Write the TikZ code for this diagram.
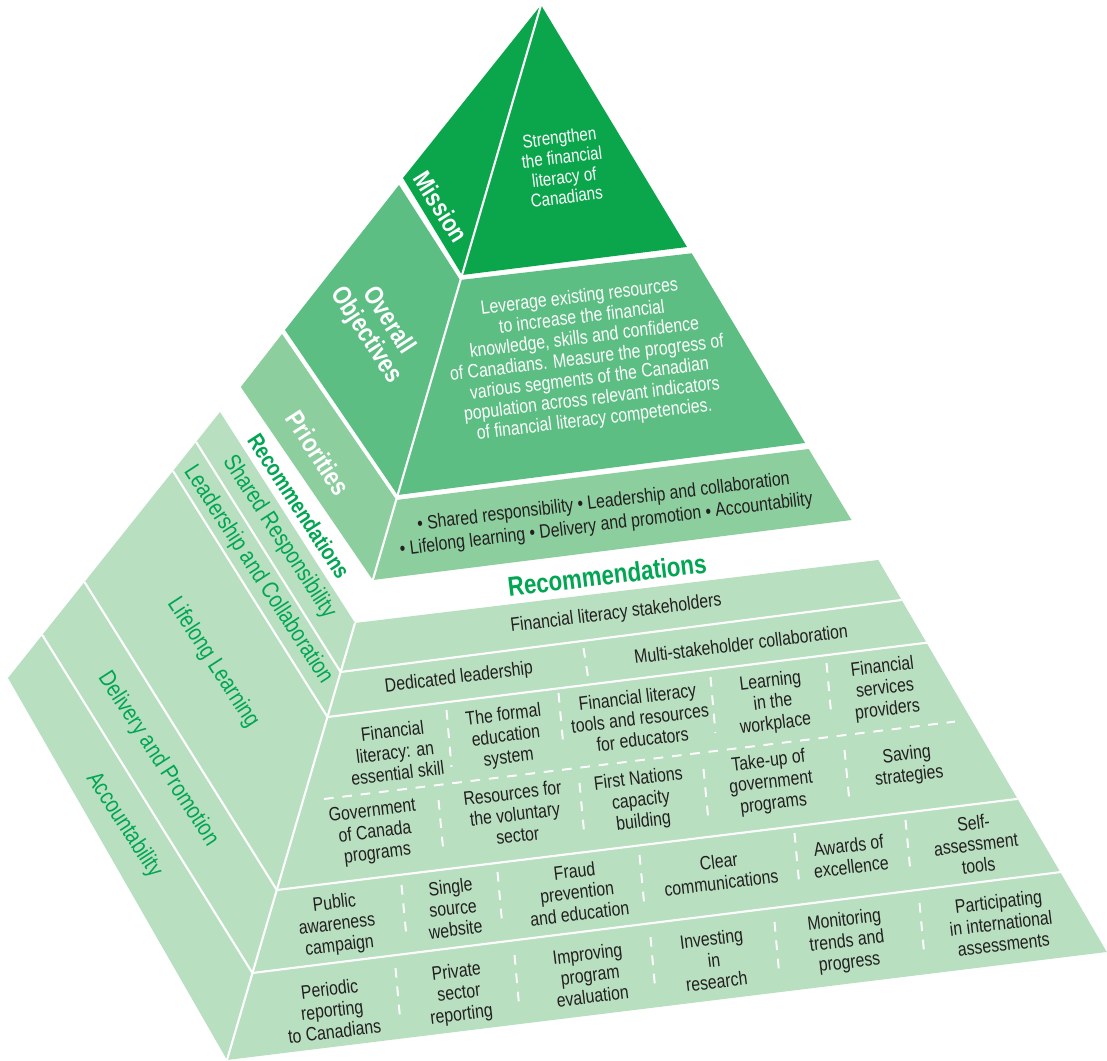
\documentclass[tikz,border=0pt]{standalone}
\usepackage{fontspec}
\setmainfont[FakeStretch=0.82]{Liberation Sans}
\definecolor{missiongreen}{RGB}{11,166,76}
\definecolor{objgreen}{RGB}{92,190,130}
\definecolor{prigreen}{RGB}{141,206,159}
\definecolor{recgreen}{RGB}{184,223,192}
\definecolor{titlegreen}{RGB}{0,166,81}
\definecolor{ink}{RGB}{35,31,32}

\begin{document}
\begin{tikzpicture}[x=0.02cm,y=-0.02cm,
  ridge/.style={white,line width=1.2pt},
  sepline/.style={white,line width=1.1pt,dash pattern=on 5.5pt off 5pt},
  cell/.style={text=ink,align=center,inner sep=0pt,rotate=7,font=\fontsize{11}{12.2}\selectfont},
  facetxt/.style={cell,text=white},
  tag/.style={text=white,align=center,inner sep=0pt,rotate=#1,font=\bfseries\fontsize{15}{15}\selectfont},
  tag/.default=-57,
  strip/.style={text=titlegreen,inner sep=0pt,rotate=-57,font=\fontsize{13.5}{14}\selectfont}]
  \useasboundingbox (0,0) rectangle (1107,1061);

  % top pyramid
  \fill[missiongreen] (541,5) -- (403,178) -- (462,275) -- (687,247) -- cycle;
  \fill[objgreen] (399,185) -- (460,280) -- (691.7,253.3) -- (805.1,443) -- (397.6,495) -- (285,330) -- cycle;
  \fill[prigreen] (282,334) -- (396.3,500) -- (808.7,449) -- (851.5,520) -- (372.8,580) -- (240.8,387) -- cycle;
  \draw[ridge] (541,5) -- (372.8,580);

  % lower block
  \fill[recgreen] (220,412) -- (355,623) -- (878.3,560) -- (1106.8,952) -- (227,1060) -- (8,678) -- cycle;
  \draw[ridge] (355,623) -- (227,1060);
  \foreach \ax/\ay/\bx/\by in {196.1/442/340.6/672, 173/471/327.5/717, 84.5/582/276.8/890, 42.3/635/252.4/973}
    \draw[ridge] (\ax,\ay) -- (\bx,\by);
  \foreach \ax/\ay/\bx/\by in {340.6/672/901.6/600, 327.5/717/926.7/642.7, 276.8/890/1017.5/798.9, 252.4/973/1061/872}
    \draw[ridge] (\ax,\ay) -- (\bx,\by);

  % dashed separators
  \draw[sepline] (324,799) -- (955,721.6);
  \foreach \x/\ya/\yb in {586/648/680,
      449/710/767, 561/693/747, 713/677/733, 829/663/717,
      441/800/853, 582/783/837, 706/769/821, 847/750/802,
      404/885/937, 500/872/927, 642/855/907, 797/833/887, 908/820/872,
      398/968/1023, 517/955/1010, 653/937/992, 777/922/977, 922/903/957}
    \draw[sepline] (\x-2.5,\ya) -- (\x+2.5,\yb);

  % labels on the left faces
  \node[tag=-58,font=\bfseries\fontsize{14.5}{15}\selectfont] (mission) at (441,207) {Mission};
  \node[tag] (objectives) at (377,328) {Overall\\Objectives};
  \node[tag] (priorities) at (318,453) {Priorities};
  \node[tag,text=titlegreen,font=\bfseries\fontsize{13}{13}\selectfont] (recside) at (299,506) {Recommendations};
  \node[strip] (shared) at (279,537) {Shared Responsibility};
  \node[strip] (leader) at (258,575) {Leadership and Collaboration};
  \node[strip] (lifelong) at (213,663) {Lifelong Learning};
  \node[strip] (delivery) at (158,759) {Delivery and Promotion};
  \node[strip] (account) at (124,825) {Accountability};

  % texts on the front faces
  \node[facetxt,font=\fontsize{10.5}{11.4}\selectfont] (missiontxt) at (563,167) {Strengthen\\the financial\\literacy of\\Canadians};
  \node[facetxt,font=\fontsize{11}{11.7}\selectfont] (objtxt) at (587,359) {Leverage existing resources\\to increase the financial\\knowledge, skills and confidence\\of Canadians. Measure the progress of\\various segments of the Canadian\\population across relevant indicators\\of financial literacy competencies.};
  \node[cell,font=\fontsize{11}{13}\selectfont] (pritxt) at (605,514) {\textbullet\ Shared responsibility \textbullet\ Leadership and collaboration\\\textbullet\ Lifelong learning \textbullet\ Delivery and promotion \textbullet\ Accountability};
  \node[cell,text=titlegreen,font=\bfseries\fontsize{15.5}{15.5}\selectfont] (rechead) at (607,575) {Recommendations};

  % rows of recommendations
  \node[cell] (stake) at (616,614) {Financial literacy stakeholders};
  \node[cell] (dedic) at (459,678) {Dedicated leadership};
  \node[cell] (multi) at (741,644) {Multi-stakeholder collaboration};
  \node[cell] (essential) at (395,752) {Financial\\literacy: an\\essential skill};
  \node[cell] (formal) at (506,737) {The formal\\education\\system};
  \node[cell] (tools) at (640,718) {Financial literacy\\tools and resources\\for educators};
  \node[cell] (workplace) at (773,703) {Learning\\in the\\workplace};
  \node[cell] (providers) at (885,689) {Financial\\services\\providers};
  \node[cell] (govcan) at (375,833) {Government\\of Canada\\programs};
  \node[cell] (volunt) at (515,814) {Resources for\\the voluntary\\sector};
  \node[cell] (firstn) at (641,801) {First Nations\\capacity\\building};
  \node[cell] (takeup) at (771,783) {Take-up of\\government\\programs};
  \node[cell] (saving) at (908,766) {Saving\\strategies};
  \node[cell] (public) at (337,925) {Public\\awareness\\campaign};
  \node[cell] (single) at (453,908) {Single\\source\\website};
  \node[cell] (fraud) at (577,892) {Fraud\\prevention\\and education};
  \node[cell] (clear) at (720,872) {Clear\\communications};
  \node[cell] (awards) at (850,856) {Awards of\\excellence};
  \node[cell] (selfas) at (976,844) {Self-\\assessment\\tools};
  \node[cell] (periodic) at (332,1010) {Periodic\\reporting\\to Canadians};
  \node[cell] (private) at (459,994) {Private\\sector\\reporting};
  \node[cell] (improve) at (590,975) {Improving\\program\\evaluation};
  \node[cell] (invest) at (714,960) {Investing\\in\\research};
  \node[cell] (monitor) at (847,942) {Monitoring\\trends and\\progress};
  \node[cell] (intl) at (1001,923) {Participating\\in international\\assessments};
\end{tikzpicture}
\end{document}
